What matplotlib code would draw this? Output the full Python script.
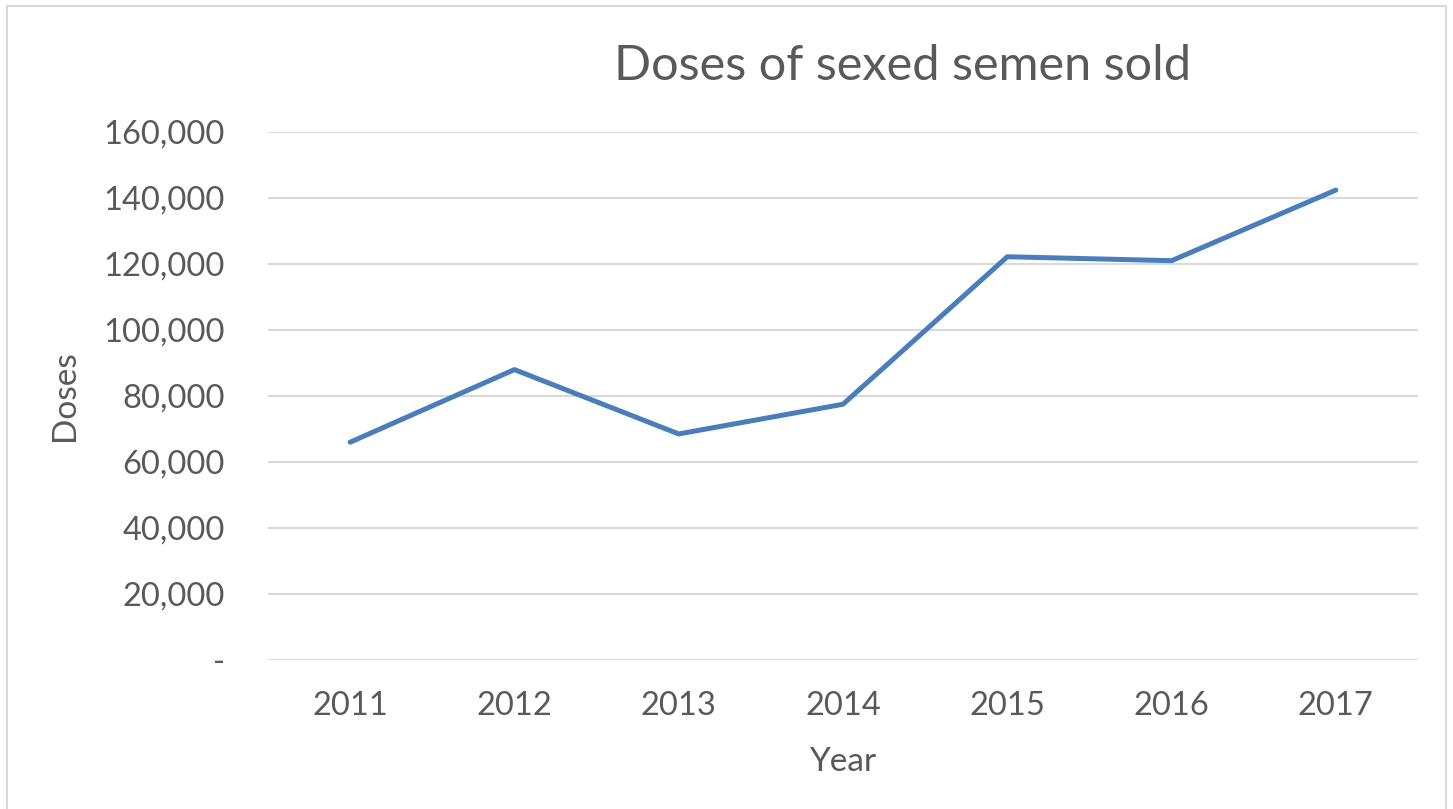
import matplotlib.pyplot as plt
from matplotlib.patches import Rectangle
from matplotlib.ticker import FuncFormatter

# Data
years = ["2011", "2012", "2013", "2014", "2015", "2016", "2017"]
doses = [66000, 88000, 68500, 77500, 122200, 121000, 142400]
y_ticks = [0, 20000, 40000, 60000, 80000, 100000, 120000, 140000, 160000]

plt.rcParams["font.family"] = ["Lato", "DejaVu Sans"]
text_col = "#595959"
grid_col = "#d9d9d9"
W, H = 1453, 809

fig = plt.figure(figsize=(W / 100, H / 100), dpi=100, facecolor="white")
ax = fig.add_axes([268 / W, 1 - 660 / H, 1150 / W, 528 / H])

x = list(range(len(years)))
ax.plot(x, doses, color="#4a7ebb", linewidth=3.6, solid_capstyle="round", zorder=3)

ax.set_xlim(-0.5, len(years) - 0.5)
ax.set_ylim(0, 160000)
ax.set_yticks(y_ticks)
ax.yaxis.set_major_formatter(FuncFormatter(lambda v, p: "-" if v == 0 else f"{int(v):,}"))
ax.set_xticks(x)
ax.set_xticklabels(years)

ax.grid(axis="y", color=grid_col, linewidth=1.5)
ax.set_axisbelow(True)
for s in ax.spines.values():
    s.set_visible(False)
ax.tick_params(length=0, labelsize=23.5, labelcolor=text_col)
ax.tick_params(axis="y", pad=31)
ax.tick_params(axis="x", pad=22)

# axis titles and chart title
fig.text(843 / W, 1 - 762 / H, "Year", fontsize=24, color=text_col,
         ha="center", va="center")
fig.text(65 / W, 1 - 396 / H, "Doses", fontsize=24, color=text_col,
         ha="center", va="center", rotation=90)
fig.text(902 / W, 1 - 66 / H, "Doses of sexed semen sold", fontsize=35,
         color=text_col, ha="center", va="center")

# chart border
fig.patches.append(Rectangle((7 / W, -0.01), 1439 / W, 1 - 6 / H + 0.01,
                             transform=fig.transFigure, fill=False,
                             edgecolor=grid_col, linewidth=1.5))

fig.savefig("out.png", dpi=100)
